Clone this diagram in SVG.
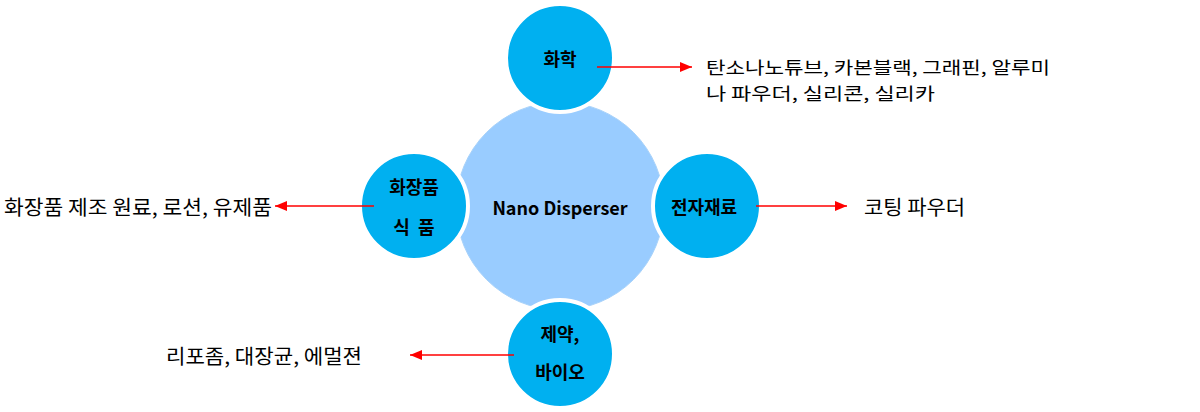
<svg xmlns="http://www.w3.org/2000/svg" width="1200" height="412" viewBox="0 0 1200 412">
<defs>
<marker id="ah" markerWidth="12" markerHeight="10" refX="12" refY="5" orient="auto" markerUnits="userSpaceOnUse">
<path d="M0,0 L12,5 L0,10 Z" fill="#FF0000"/>
</marker>
<style>
.sat{fill:#00B0F0;stroke:#FFFFFF;stroke-width:4}
.hub{fill:#99CCFF;stroke:#A8D2FA;stroke-width:1}
.lbl{font-family:"Noto Sans CJK KR","Noto Sans",sans-serif;font-weight:bold;font-size:18px;fill:#000;text-anchor:middle;dominant-baseline:central}
.desc{font-family:"Noto Sans CJK KR","Noto Sans",sans-serif;font-size:20px;fill:#000;dominant-baseline:central}
.desc2{font-family:"Noto Sans CJK KR","Noto Sans",sans-serif;font-size:17px;fill:#000;dominant-baseline:central}
.conn{stroke:#FF0000;stroke-width:1.5;fill:none;marker-end:url(#ah)}
</style>
</defs>
<rect width="1200" height="412" fill="#FFFFFF"/>
<g id="hub">
<circle class="hub" cx="560" cy="206" r="104"/>
<text class="lbl" x="560" y="207">Nano Disperser</text>
</g>
<g id="node-chem">
<circle class="sat" cx="560" cy="58" r="54"/>
<text class="lbl" x="560" y="58">화학</text>
</g>
<g id="node-cosmetic">
<circle class="sat" cx="414" cy="206" r="54"/>
<text class="lbl" x="414" y="186">화장품</text>
<text class="lbl" x="414" y="226" xml:space="preserve">식  품</text>
</g>
<g id="node-electronic">
<circle class="sat" cx="707" cy="206" r="54"/>
<text class="lbl" x="704" y="206">전자재료</text>
</g>
<g id="node-pharma">
<circle class="sat" cx="560" cy="354" r="54"/>
<text class="lbl" x="560" y="333">제약,</text>
<text class="lbl" x="560" y="371">바이오</text>
</g>
<g id="connectors">
<line class="conn" x1="597" y1="67" x2="692" y2="67"/>
<line class="conn" x1="374" y1="206" x2="275" y2="206"/>
<line class="conn" x1="756" y1="206" x2="847" y2="206"/>
<line class="conn" x1="514" y1="355" x2="410" y2="355"/>
</g>
<g id="desc-chem">
<text class="desc2" x="706" y="66" textLength="344" lengthAdjust="spacingAndGlyphs">탄소나노튜브, 카본블랙, 그래핀, 알루미</text>
<text class="desc2" x="706" y="92" textLength="229" lengthAdjust="spacingAndGlyphs">나 파우더, 실리콘, 실리카</text>
</g>
<g id="desc-cosmetic">
<text class="desc" x="4" y="206" textLength="268" lengthAdjust="spacingAndGlyphs">화장품 제조 원료, 로션, 유제품</text>
</g>
<g id="desc-electronic">
<text class="desc" x="864" y="206" textLength="101" lengthAdjust="spacingAndGlyphs">코팅 파우더</text>
</g>
<g id="desc-pharma">
<text class="desc" x="166" y="355" textLength="196" lengthAdjust="spacingAndGlyphs">리포좀, 대장균, 에멀젼</text>
</g>
</svg>
